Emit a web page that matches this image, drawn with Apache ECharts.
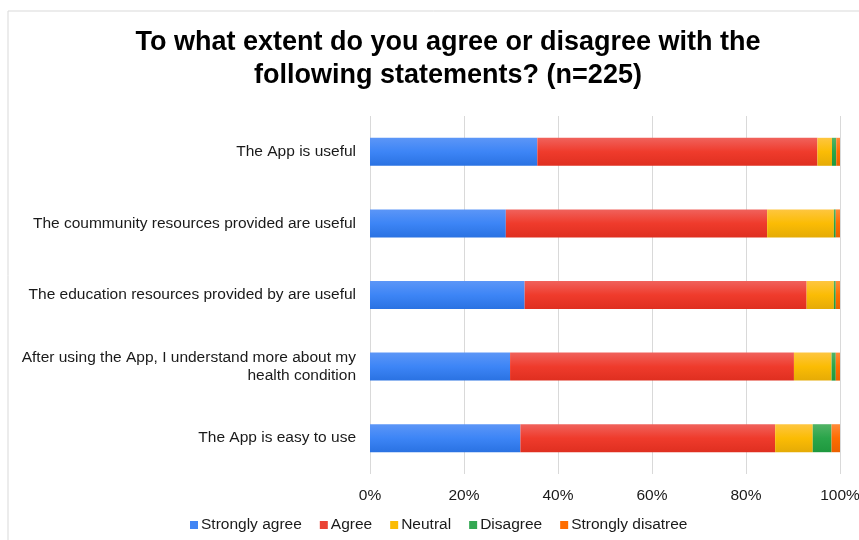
<!DOCTYPE html>
<html>
<head>
<meta charset="utf-8">
<script src="https://cdn.jsdelivr.net/npm/echarts@6/dist/echarts.min.js"></script>
<style>
html,body{margin:0;padding:0;background:#fff;}
#chart{width:859px;height:540px;}
</style>
</head>
<body>
<div id="chart"></div>
<script>
const categories = [
  'The App is useful',
  'The coummunity resources provided are useful',
  'The education resources provided by are useful',
  'After using the App, I understand more about my\nhealth condition',
  'The App is easy to use'
];
const seriesNames = ['Strongly agree', 'Agree', 'Neutral', 'Disagree', 'Strongly disatree'];
// percentages
const stronglyAgree   = [35.6, 28.9, 32.9, 29.8, 32.0];
const agree           = [59.6, 55.6, 60.0, 60.4, 54.2];
const neutral         = [3.1, 14.2, 5.8, 8.0, 8.0];
const disagree        = [0.9, 0.4, 0.4, 0.9, 4.0];
const stronglyDisagree= [0.8, 0.9, 0.9, 0.9, 1.8];
const tickLabels = ['0%', '20%', '40%', '60%', '80%', '100%'];

const values = [stronglyAgree, agree, neutral, disagree, stronglyDisagree];
const baseColors = ['#4285f4', '#ea4335', '#fbbc04', '#34a853', '#ff6d01'];
const grads = [
  ['#5c96f7', '#3d85f6', '#2a72e2'],
  ['#f0625c', '#ef3b2c', '#df2f20'],
  ['#fec640', '#fbbc04', '#e5ab06'],
  ['#52b366', '#2aa54a', '#1e983e'],
  ['#ff8a3a', '#ff6d01', '#eb6100']
];

const chart = echarts.init(document.getElementById('chart'));
const series = seriesNames.map((name, i) => ({
  name: name,
  type: 'bar',
  stack: 'total',
  barWidth: 28,
  data: values[i],
  itemStyle: {
    color: new echarts.graphic.LinearGradient(0, 0, 0, 1, [
      {offset: 0, color: grads[i][0]},
      {offset: 0.5, color: grads[i][1]},
      {offset: 1, color: grads[i][2]}
    ])
  },
  emphasis: {disabled: true}
}));

chart.setOption({
  animation: false,
  backgroundColor: '#fff',
  textStyle: {fontFamily: 'Liberation Sans, Arial, sans-serif'},
  title: {
    text: 'To what extent do you agree or disagree with the\nfollowing statements? (n=225)',
    left: 443,
    top: 21,
    textAlign: 'center',
    textStyle: {fontSize: 27, fontWeight: 'bold', color: '#000', lineHeight: 33, fontFamily: 'Liberation Sans, Arial, sans-serif'}
  },
  graphic: [
    {type: 'line', shape: {x1: 8, y1: 11, x2: 859, y2: 11}, style: {stroke: '#d9d9d9', lineWidth: 1}},
    {type: 'line', shape: {x1: 8, y1: 11, x2: 8, y2: 540}, style: {stroke: '#d9d9d9', lineWidth: 1}}
  ],
  legend: {
    bottom: 2,
    left: 185,
    itemWidth: 8,
    itemHeight: 8,
    itemGap: 18,
    icon: 'rect',
    textStyle: {fontSize: 15.5, color: '#1a1a1a', padding: [0, 0, 0, -2]},
    data: seriesNames.map((n, i) => ({name: n, itemStyle: {color: baseColors[i]}}))
  },
  grid: {left: 370, right: 19, top: 116, bottom: 66, containLabel: false, outerBoundsMode: 'none'},
  xAxis: {
    type: 'value',
    min: 0,
    max: 100,
    interval: 20,
    axisLine: {show: false},
    axisTick: {show: false},
    splitLine: {lineStyle: {color: '#d9d9d9', width: 1}},
    axisLabel: {
      fontSize: 15.5,
      color: '#1a1a1a',
      margin: 14,
      formatter: (v) => tickLabels[Math.round(v / 20)]
    }
  },
  yAxis: {
    type: 'category',
    inverse: true,
    data: categories,
    axisLine: {show: false},
    axisTick: {show: false},
    axisLabel: {fontSize: 15.5, color: '#1a1a1a', margin: 14, align: 'right', lineHeight: 18}
  },
  series: series
});
</script>
</body>
</html>
